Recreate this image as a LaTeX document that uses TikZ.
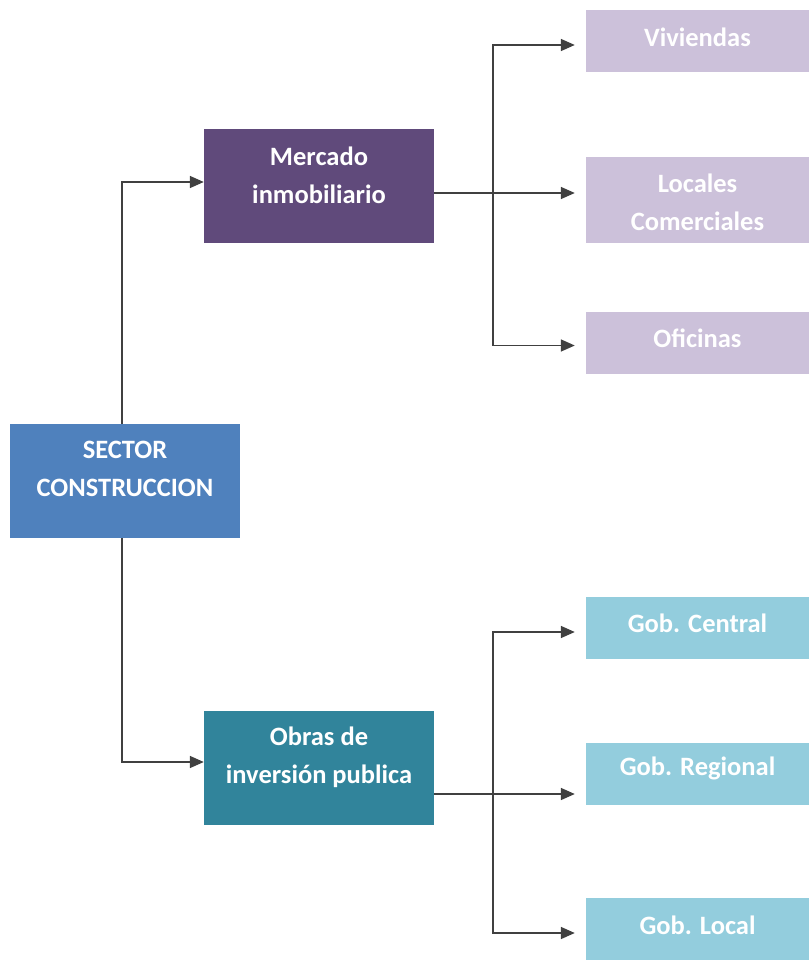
\documentclass[tikz,border=0pt]{standalone}
\usepackage{fontspec}
\setmainfont{Carlito}
\usetikzlibrary{arrows.meta,positioning}
\definecolor{rootblue}{HTML}{4F81BD}
\definecolor{darkpurple}{HTML}{604A7B}
\definecolor{darkteal}{HTML}{31849B}
\definecolor{lightpurple}{HTML}{CCC1DA}
\definecolor{lightblue}{HTML}{93CDDD}
\definecolor{linegray}{HTML}{404040}
\begin{document}
\begin{tikzpicture}
  [x=1pt,y=-1pt,
  boxtext/.style={text=white,align=center,inner sep=0pt,
    font=\fontsize{26.5}{38}\selectfont\bfseries},
  box/.style={rectangle,draw=none,inner sep=0pt},
  mainbox/.style={box,minimum width=230pt,minimum height=114pt},
  leafbox/.style={box,minimum width=223pt,minimum height=62pt},
  link/.style={draw=linegray,line width=1.6pt},
  arrowlink/.style={link,-{Triangle[length=14pt,width=12pt]},shorten >=11pt}]
  \useasboundingbox (0,0) rectangle (809,960);

  \node[mainbox,fill=rootblue,label={[boxtext,yshift=12pt]center:SECTOR\\CONSTRUCCION}] (sector) at (125,481) {};
  \node[mainbox,fill=darkpurple,label={[boxtext,yshift=11pt]center:Mercado\\inmobiliario}] (mercado) at (319,186) {};
  \node[mainbox,fill=darkteal,label={[boxtext,yshift=11pt]center:Obras de\\inversión publica}] (obras) at (319,768) {};

  \node[leafbox,fill=lightpurple,label={[boxtext,yshift=4pt]center:Viviendas}] (viviendas) at (697.5,41) {};
  \node[leafbox,fill=lightpurple,minimum height=86pt,label={[boxtext,yshift=-2pt]center:Locales\\Comerciales}] (locales) at (697.5,200) {};
  \node[leafbox,fill=lightpurple,label={[boxtext,yshift=4pt]center:Oficinas}] (oficinas) at (697.5,342.5) {};

  \node[leafbox,fill=lightblue,label={[boxtext,yshift=5pt]center:Gob. Central}] (central) at (697.5,628) {};
  \node[leafbox,fill=lightblue,label={[boxtext,yshift=5pt]center:Gob. Regional}] (regional) at (697.5,773.5) {};
  \node[leafbox,fill=lightblue,label={[boxtext,yshift=4pt]center:Gob. Local}] (local) at (697.5,929) {};

  \draw[arrowlink,shorten >=0pt] ([xshift=-3pt]sector.north) |- ([yshift=4pt]mercado.west);
  \draw[arrowlink,shorten >=0pt] ([xshift=-3pt]sector.south) |- ([yshift=6pt]obras.west);

  \coordinate (mjoin) at (493,193);
  \draw[link] ([yshift=-7pt]mercado.east) -- (mjoin);
  \draw[arrowlink] (mjoin) |- ([yshift=-4pt]viviendas.west);
  \draw[arrowlink] (mjoin) -- (mjoin -| locales.west);
  \draw[arrowlink] (mjoin) |- ([yshift=-3pt]oficinas.west);

  \coordinate (ojoin) at (493,794);
  \draw[link] ([yshift=-26pt]obras.east) -- (ojoin);
  \draw[arrowlink] (ojoin) |- ([yshift=-4pt]central.west);
  \draw[arrowlink] (ojoin) -- (ojoin -| regional.west);
  \draw[arrowlink] (ojoin) |- ([yshift=-4pt]local.west);

\end{tikzpicture}
\end{document}
